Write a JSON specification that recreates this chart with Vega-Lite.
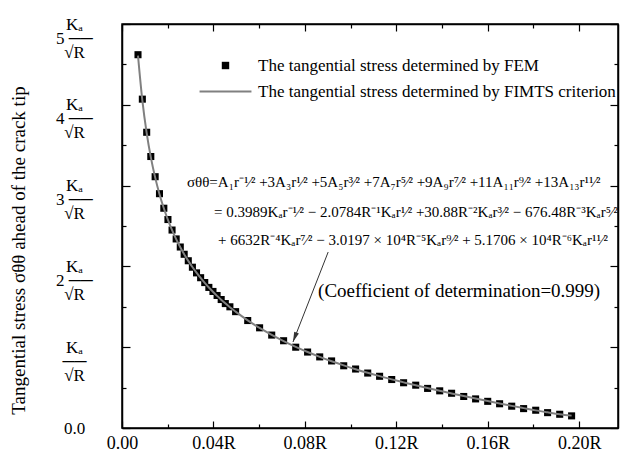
{
  "$schema": "https://vega.github.io/schema/vega-lite/v6.json",
  "width": 496,
  "height": 404,
  "autosize": "none",
  "padding": {"left": 122, "top": 24, "right": 5, "bottom": 32},
  "background": "white",
  "config": {
    "view": {"stroke": "black", "strokeWidth": 1.5},
    "axis": {
      "grid": false,
      "domainColor": "black",
      "domainWidth": 1.5,
      "tickColor": "black",
      "tickWidth": 1.2,
      "labelColor": "black",
      "labelFont": "Liberation Serif",
      "labelFontSize": 18,
      "titleFont": "Liberation Serif",
      "titleFontWeight": "normal",
      "titleColor": "black",
      "labelFlush": false,
      "labelOverlap": false
    },
    "text": {"font": "Liberation Serif", "color": "black"}
  },
  "datasets": {
    "fem": [
      {"r": 0.0070, "sigma": 4.62, "series": "FEM"},
      {"r": 0.0089, "sigma": 4.07, "series": "FEM"},
      {"r": 0.0108, "sigma": 3.66, "series": "FEM"},
      {"r": 0.0126, "sigma": 3.36, "series": "FEM"},
      {"r": 0.0145, "sigma": 3.11, "series": "FEM"},
      {"r": 0.0164, "sigma": 2.90, "series": "FEM"},
      {"r": 0.0183, "sigma": 2.72, "series": "FEM"},
      {"r": 0.0201, "sigma": 2.58, "series": "FEM"},
      {"r": 0.0219, "sigma": 2.45, "series": "FEM"},
      {"r": 0.0237, "sigma": 2.34, "series": "FEM"},
      {"r": 0.0255, "sigma": 2.24, "series": "FEM"},
      {"r": 0.0272, "sigma": 2.15, "series": "FEM"},
      {"r": 0.0290, "sigma": 2.07, "series": "FEM"},
      {"r": 0.0308, "sigma": 1.99, "series": "FEM"},
      {"r": 0.0326, "sigma": 1.92, "series": "FEM"},
      {"r": 0.0344, "sigma": 1.86, "series": "FEM"},
      {"r": 0.0362, "sigma": 1.80, "series": "FEM"},
      {"r": 0.0380, "sigma": 1.74, "series": "FEM"},
      {"r": 0.0398, "sigma": 1.69, "series": "FEM"},
      {"r": 0.0416, "sigma": 1.64, "series": "FEM"},
      {"r": 0.0434, "sigma": 1.59, "series": "FEM"},
      {"r": 0.0452, "sigma": 1.54, "series": "FEM"},
      {"r": 0.0472, "sigma": 1.50, "series": "FEM"},
      {"r": 0.0497, "sigma": 1.44, "series": "FEM"},
      {"r": 0.0550, "sigma": 1.33, "series": "FEM"},
      {"r": 0.0602, "sigma": 1.24, "series": "FEM"},
      {"r": 0.0655, "sigma": 1.15, "series": "FEM"},
      {"r": 0.0707, "sigma": 1.08, "series": "FEM"},
      {"r": 0.0760, "sigma": 1.00, "series": "FEM"},
      {"r": 0.0812, "sigma": 0.94, "series": "FEM"},
      {"r": 0.0865, "sigma": 0.88, "series": "FEM"},
      {"r": 0.0917, "sigma": 0.83, "series": "FEM"},
      {"r": 0.0970, "sigma": 0.77, "series": "FEM"},
      {"r": 0.1022, "sigma": 0.73, "series": "FEM"},
      {"r": 0.1075, "sigma": 0.68, "series": "FEM"},
      {"r": 0.1127, "sigma": 0.64, "series": "FEM"},
      {"r": 0.1180, "sigma": 0.60, "series": "FEM"},
      {"r": 0.1232, "sigma": 0.56, "series": "FEM"},
      {"r": 0.1285, "sigma": 0.53, "series": "FEM"},
      {"r": 0.1337, "sigma": 0.49, "series": "FEM"},
      {"r": 0.1390, "sigma": 0.46, "series": "FEM"},
      {"r": 0.1442, "sigma": 0.43, "series": "FEM"},
      {"r": 0.1495, "sigma": 0.39, "series": "FEM"},
      {"r": 0.1547, "sigma": 0.36, "series": "FEM"},
      {"r": 0.1600, "sigma": 0.33, "series": "FEM"},
      {"r": 0.1652, "sigma": 0.30, "series": "FEM"},
      {"r": 0.1705, "sigma": 0.27, "series": "FEM"},
      {"r": 0.1757, "sigma": 0.24, "series": "FEM"},
      {"r": 0.1810, "sigma": 0.22, "series": "FEM"},
      {"r": 0.1862, "sigma": 0.19, "series": "FEM"},
      {"r": 0.1915, "sigma": 0.17, "series": "FEM"},
      {"r": 0.1967, "sigma": 0.15, "series": "FEM"}
    ],
    "fimts": [
      {"r": 0.0070, "sigma": 4.609},
      {"r": 0.0089, "sigma": 4.054},
      {"r": 0.0108, "sigma": 3.650},
      {"r": 0.0126, "sigma": 3.353},
      {"r": 0.0145, "sigma": 3.102},
      {"r": 0.0164, "sigma": 2.894},
      {"r": 0.0183, "sigma": 2.719},
      {"r": 0.0201, "sigma": 2.575},
      {"r": 0.0219, "sigma": 2.449},
      {"r": 0.0237, "sigma": 2.338},
      {"r": 0.0255, "sigma": 2.237},
      {"r": 0.0272, "sigma": 2.151},
      {"r": 0.0290, "sigma": 2.068},
      {"r": 0.0308, "sigma": 1.992},
      {"r": 0.0326, "sigma": 1.922},
      {"r": 0.0344, "sigma": 1.857},
      {"r": 0.0362, "sigma": 1.796},
      {"r": 0.0380, "sigma": 1.739},
      {"r": 0.0398, "sigma": 1.686},
      {"r": 0.0416, "sigma": 1.635},
      {"r": 0.0434, "sigma": 1.588},
      {"r": 0.0452, "sigma": 1.543},
      {"r": 0.0472, "sigma": 1.495},
      {"r": 0.0497, "sigma": 1.440},
      {"r": 0.0550, "sigma": 1.332},
      {"r": 0.0602, "sigma": 1.238},
      {"r": 0.0655, "sigma": 1.152},
      {"r": 0.0707, "sigma": 1.076},
      {"r": 0.0760, "sigma": 1.005},
      {"r": 0.0812, "sigma": 0.941},
      {"r": 0.0865, "sigma": 0.881},
      {"r": 0.0917, "sigma": 0.826},
      {"r": 0.0970, "sigma": 0.775},
      {"r": 0.1022, "sigma": 0.728},
      {"r": 0.1075, "sigma": 0.683},
      {"r": 0.1127, "sigma": 0.642},
      {"r": 0.1180, "sigma": 0.602},
      {"r": 0.1232, "sigma": 0.565},
      {"r": 0.1285, "sigma": 0.528},
      {"r": 0.1337, "sigma": 0.494},
      {"r": 0.1390, "sigma": 0.460},
      {"r": 0.1442, "sigma": 0.428},
      {"r": 0.1495, "sigma": 0.396},
      {"r": 0.1547, "sigma": 0.365},
      {"r": 0.1600, "sigma": 0.334},
      {"r": 0.1652, "sigma": 0.304},
      {"r": 0.1705, "sigma": 0.274},
      {"r": 0.1757, "sigma": 0.246},
      {"r": 0.1810, "sigma": 0.218},
      {"r": 0.1862, "sigma": 0.194},
      {"r": 0.1915, "sigma": 0.171},
      {"r": 0.1967, "sigma": 0.153}
    ],
    "formula": [
      {"x": 0.0284, "y": 3.045, "label": "σθθ=A₁r⁻¹⁄² +3A₃r¹⁄² +5A₅r³⁄² +7A₇r⁵⁄² +9A₉r⁷⁄² +11A₁₁r⁹⁄² +13A₁₃r¹¹⁄²"},
      {"x": 0.0403, "y": 2.673, "label": "= 0.3989Kₐr⁻¹⁄² − 2.0784R⁻¹Kₐr¹⁄² +30.88R⁻²Kₐr³⁄² − 676.48R⁻³Kₐr⁵⁄²"},
      {"x": 0.0420, "y": 2.327, "label": "+ 6632R⁻⁴Kₐr⁷⁄² − 3.0197 × 10⁴R⁻⁵Kₐr⁹⁄² + 5.1706 × 10⁴R⁻⁶Kₐr¹¹⁄²"}
    ],
    "note": [
      {"x": 0.0858, "y": 1.696, "label": "(Coefficient of determination=0.999)"}
    ],
    "arrow": [
      {"x0": 0.0902, "y0": 2.178, "x1": 0.0748, "y1": 1.064}
    ]
  },
  "layer": [
    {
      "data": {"name": "fem"},
      "mark": {"type": "point", "filled": true, "size": 50, "opacity": 1},
      "encoding": {
        "x": {
          "field": "r", "type": "quantitative",
          "scale": {"domain": [0, 0.217], "nice": false, "zero": false},
          "axis": {
            "orient": "bottom", "title": null,
            "values": [0, 0.02, 0.04, 0.06, 0.08, 0.1, 0.12, 0.14, 0.16, 0.18, 0.2],
            "tickSize": {"condition": {"test": "round(datum.value*50) % 2 == 0", "value": -7}, "value": -4},
            "labelExpr": "datum.value == 0 ? '0.00' : (round(datum.value*50) % 2 == 0 ? format(datum.value, '.2f') + 'R' : '')",
            "labelPadding": 13
          }
        },
        "y": {
          "field": "sigma", "type": "quantitative",
          "scale": {"domain": [0, 5], "nice": false, "zero": false},
          "axis": {
            "orient": "left",
            "title": "Tangential stress σθθ ahead of the crack tip",
            "titleFontSize": 19,
            "titlePadding": 27,
            "titleY": 226,
            "values": [0, 0.5, 1, 1.5, 2, 2.5, 3, 3.5, 4, 4.5, 5],
            "tickSize": {"condition": {"test": "datum.value % 1 == 0", "value": -8}, "value": -4},
            "labelExpr": "datum.value == 0 ? '0.0' : (datum.value == 1 ? ['K\u2090', '\u2500\u2500', '\u221aR'] : (datum.value % 1 == 0 ? ['\u2002\u2009K\u2090', datum.value + ' \u2500\u2500', '\u2002\u2009\u221aR'] : ''))",
            "labelAlign": "center",
            "labelBaseline": "middle",
            "labelFontSize": 17,
            "labelLineHeight": 14,
            "labelPadding": 56
          }
        },
        "color": {
          "field": "series", "type": "nominal",
          "scale": {"domain": ["FEM", "FIMTS"], "range": ["#000000", "#808080"]},
          "legend": {
            "title": null,
            "orient": "none",
            "legendX": 95,
            "legendY": 33,
            "padding": 0,
            "labelFont": "Liberation Serif",
            "labelFontSize": 17,
            "labelColor": "black",
            "labelLimit": 600,
            "labelExpr": "datum.label == 'FEM' ? 'The tangential stress determined by FEM' : 'The tangential stress determined by FIMTS criterion'",
            "symbolSize": 55,
            "labelOffset": 24,
            "rowPadding": 8
          }
        },
        "shape": {
          "field": "series", "type": "nominal",
          "scale": {"domain": ["FEM", "FIMTS"], "range": ["square", "M-7,-0.28H7V0.28H-7Z"]},
          "legend": {
            "title": null,
            "orient": "none",
            "legendX": 95,
            "legendY": 33,
            "padding": 0,
            "labelFont": "Liberation Serif",
            "labelFontSize": 17,
            "labelColor": "black",
            "labelLimit": 600,
            "labelExpr": "datum.label == 'FEM' ? 'The tangential stress determined by FEM' : 'The tangential stress determined by FIMTS criterion'",
            "symbolSize": 55,
            "labelOffset": 24,
            "rowPadding": 8
          }
        }
      }
    },
    {
      "data": {"name": "fimts"},
      "mark": {"type": "line", "color": "#808080", "strokeWidth": 2, "interpolate": "monotone"},
      "encoding": {
        "x": {
          "field": "r", "type": "quantitative",
          "axis": {
            "orient": "top", "title": null, "labels": false,
            "values": [0, 0.02, 0.04, 0.06, 0.08, 0.1, 0.12, 0.14, 0.16, 0.18, 0.2],
            "tickSize": {"condition": {"test": "round(datum.value*50) % 2 == 0", "value": -7}, "value": -4}
          }
        },
        "y": {
          "field": "sigma", "type": "quantitative",
          "axis": {
            "orient": "right", "title": null, "labels": false,
            "values": [0, 0.5, 1, 1.5, 2, 2.5, 3, 3.5, 4, 4.5, 5],
            "tickSize": {"condition": {"test": "datum.value % 1 == 0", "value": -8}, "value": -4}
          }
        }
      }
    },
    {
      "data": {"name": "formula"},
      "mark": {"type": "text", "align": "left", "baseline": "middle", "fontSize": 15, "font": "Liberation Serif"},
      "encoding": {
        "x": {"field": "x", "type": "quantitative", "axis": null},
        "y": {"field": "y", "type": "quantitative", "axis": null},
        "text": {"field": "label"}
      }
    },
    {
      "data": {"name": "note"},
      "mark": {"type": "text", "align": "left", "baseline": "middle", "fontSize": 19, "font": "Liberation Serif"},
      "encoding": {
        "x": {"field": "x", "type": "quantitative", "axis": null},
        "y": {"field": "y", "type": "quantitative", "axis": null},
        "text": {"field": "label"}
      }
    },
    {
      "data": {"name": "arrow"},
      "mark": {"type": "rule", "color": "#333333", "strokeWidth": 1},
      "encoding": {
        "x": {"field": "x0", "type": "quantitative", "axis": null},
        "y": {"field": "y0", "type": "quantitative", "axis": null},
        "x2": {"field": "x1"},
        "y2": {"field": "y1"}
      }
    },
    {
      "data": {"name": "arrow"},
      "mark": {"type": "point", "filled": true, "shape": "M0,0L-0.25,1L0.25,1Z", "size": 400, "angle": 201, "color": "#333333", "opacity": 1},
      "encoding": {
        "x": {"field": "x1", "type": "quantitative", "axis": null},
        "y": {"field": "y1", "type": "quantitative", "axis": null}
      }
    }
  ],
  "resolve": {"axis": {"x": "independent", "y": "independent"}}
}
